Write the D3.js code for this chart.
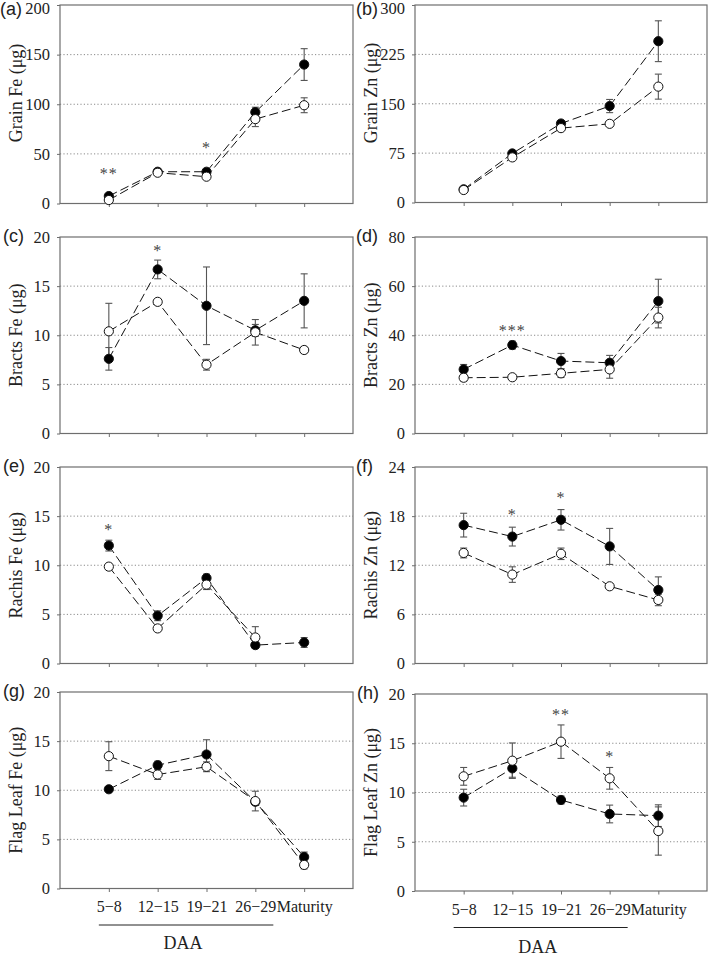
<!DOCTYPE html>
<html>
<head>
<meta charset="utf-8">
<script src="https://cdn.jsdelivr.net/npm/d3@7"></script>
<style>
  html, body { margin: 0; padding: 0; background: #fff; }
  svg { display: block; }
  .serif { font-family: "Liberation Serif", "Tinos", "Times New Roman", "DejaVu Serif", serif; }
  .sans { font-family: "Liberation Sans", Arimo, Arial, sans-serif; }
</style>
</head>
<body>
<svg id="chart" width="709" height="958"></svg>
<script>
// ---------- DATA ----------
const categories = ["5\u22128", "12\u221215", "19\u221221", "26\u221229", "Maturity"];

// (a) Grain Fe
const grainFeFilled    = [7.5, 32, 32, 92, 140];
const grainFeFilledErr = [1.5, 1.5, 2, 5, 16];
const grainFeOpen      = [3.5, 31, 27, 85, 99];
const grainFeOpenErr   = [1, 1.5, 2, 7.5, 7.5];
const grainFeTicks     = [0, 50, 100, 150, 200];
const grainFeStars     = [{cat: "5\u22128", v: 32, t: "**"}, {cat: "19\u221221", v: 58, t: "*"}];

// (b) Grain Zn
const grainZnFilled    = [20, 74.5, 120, 146.5, 245];
const grainZnFilledErr = [2, 3, 4, 10, 31];
const grainZnOpen      = [19, 68.5, 113, 119.5, 176];
const grainZnOpenErr   = [2, 3, 3, 4, 19];
const grainZnTicks     = [0, 75, 150, 225, 300];
const grainZnStars     = [];

// (c) Bracts Fe
const bractsFeFilled    = [7.6, 16.7, 13.0, 10.5, 13.5];
const bractsFeFilledErr = [1.15, 0.95, 3.95, 0.6, 2.75];
const bractsFeOpen      = [10.4, 13.4, 7.0, 10.3, 8.5];
const bractsFeOpenErr   = [2.85, 0.3, 0.55, 1.3, 0.3];
const bractsFeTicks     = [0, 5, 10, 15, 20];
const bractsFeStars     = [{cat: "12\u221215", v: 18.8, t: "*"}];

// (d) Bracts Zn
const bractsZnFilled    = [26.1, 36.0, 29.5, 28.8, 53.9];
const bractsZnFilledErr = [2, 1.6, 3.1, 3.0, 8.9];
const bractsZnOpen      = [22.7, 22.9, 24.5, 26.1, 47.2];
const bractsZnOpenErr   = [1.4, 1.0, 1.7, 3.6, 4.2];
const bractsZnTicks     = [0, 20, 40, 60, 80];
const bractsZnStars     = [{cat: "12\u221215", v: 42.7, t: "***"}];

// (e) Rachis Fe
const rachisFeFilled    = [12.0, 4.86, 8.7, 1.87, 2.14];
const rachisFeFilledErr = [0.55, 0.5, 0.4, 0.3, 0.5];
const rachisFeOpen      = [9.86, 3.57, 8.03, 2.65, null];
const rachisFeOpenErr   = [0.3, 0.3, 0.5, 1.1, null];
const rachisFeTicks     = [0, 5, 10, 15, 20];
const rachisFeStars     = [{cat: "5\u22128", v: 13.8, t: "*"}];

// (f) Rachis Zn
const rachisZnFilled    = [16.9, 15.5, 17.55, 14.3, 8.98];
const rachisZnFilledErr = [1.45, 1.15, 1.25, 2.2, 1.6];
const rachisZnOpen      = [13.5, 10.86, 13.4, 9.43, 7.76];
const rachisZnOpenErr   = [0.6, 0.95, 0.7, 0.25, 0.7];
const rachisZnTicks     = [0, 6, 12, 18, 24];
const rachisZnStars     = [{cat: "12\u221215", v: 18.4, t: "*"}, {cat: "19\u221221", v: 20.5, t: "*"}];

// (g) Flag Leaf Fe
const flagFeFilled    = [10.1, 12.55, 13.64, 8.83, 3.21];
const flagFeFilledErr = [0.25, 0.4, 1.5, 0.3, 0.5];
const flagFeOpen      = [13.47, 11.6, 12.39, 8.9, 2.4];
const flagFeOpenErr   = [1.47, 0.5, 0.5, 1.0, 0.4];
const flagFeTicks     = [0, 5, 10, 15, 20];
const flagFeStars     = [];

// (h) Flag Leaf Zn
const flagZnFilled    = [9.48, 12.45, 9.24, 7.82, 7.65];
const flagZnFilledErr = [0.85, 0.9, 0.4, 0.9, 1.1];
const flagZnOpen      = [11.64, 13.23, 15.16, 11.44, 6.09];
const flagZnOpenErr   = [0.9, 1.8, 1.7, 1.1, 2.45];
const flagZnTicks     = [0, 5, 10, 15, 20];
const flagZnStars     = [{cat: "19\u221221", v: 18.07, t: "**"}, {cat: "26\u221229", v: 13.8, t: "*"}];

const xAxisTitle = "DAA";

// ---------- PANELS (data refs + layout) ----------
const panels = [
  {tag: "(a)", label: "Grain Fe (\u03bcg)", filled: grainFeFilled, filledErr: grainFeFilledErr, open: grainFeOpen, openErr: grainFeOpenErr, ticks: grainFeTicks, stars: grainFeStars,
   L: 60, R: 353, T: 5, B: 203.5, labelY: 93, tagX: 0, tagY: 14.5, xLabels: false, topShift: 3.5},
  {tag: "(b)", label: "Grain Zn (\u03bcg)", filled: grainZnFilled, filledErr: grainZnFilledErr, open: grainZnOpen, openErr: grainZnOpenErr, ticks: grainZnTicks, stars: grainZnStars,
   L: 415, R: 707, T: 5, B: 202.5, labelY: 93, tagX: 356, tagY: 14.5, xLabels: false, topShift: 3.5},
  {tag: "(c)", label: "Bracts Fe (\u03bcg)", filled: bractsFeFilled, filledErr: bractsFeFilledErr, open: bractsFeOpen, openErr: bractsFeOpenErr, ticks: bractsFeTicks, stars: bractsFeStars,
   L: 60, R: 353, T: 237, B: 433.5, labelY: null, tagX: 3, tagY: 241.5, xLabels: false, topShift: 0},
  {tag: "(d)", label: "Bracts Zn (\u03bcg)", filled: bractsZnFilled, filledErr: bractsZnFilledErr, open: bractsZnOpen, openErr: bractsZnOpenErr, ticks: bractsZnTicks, stars: bractsZnStars,
   L: 415, R: 707, T: 237, B: 433.5, labelY: null, tagX: 356, tagY: 241.5, xLabels: false, topShift: 0},
  {tag: "(e)", label: "Rachis Fe (\u03bcg)", filled: rachisFeFilled, filledErr: rachisFeFilledErr, open: rachisFeOpen, openErr: rachisFeOpenErr, ticks: rachisFeTicks, stars: rachisFeStars,
   L: 60, R: 353, T: 467, B: 663.5, labelY: null, tagX: 3, tagY: 471.5, xLabels: false, topShift: 0},
  {tag: "(f)", label: "Rachis Zn (\u03bcg)", filled: rachisZnFilled, filledErr: rachisZnFilledErr, open: rachisZnOpen, openErr: rachisZnOpenErr, ticks: rachisZnTicks, stars: rachisZnStars,
   L: 415, R: 707, T: 467, B: 663.5, labelY: null, tagX: 356, tagY: 471.5, xLabels: false, topShift: 0},
  {tag: "(g)", label: "Flag Leaf Fe (\u03bcg)", filled: flagFeFilled, filledErr: flagFeFilledErr, open: flagFeOpen, openErr: flagFeOpenErr, ticks: flagFeTicks, stars: flagFeStars,
   L: 60, R: 353, T: 692, B: 888.5, labelY: null, tagX: 3, tagY: 696.5, xLabels: true, daaY: 949, topShift: 0},
  {tag: "(h)", label: "Flag Leaf Zn (\u03bcg)", filled: flagZnFilled, filledErr: flagZnFilledErr, open: flagZnOpen, openErr: flagZnOpenErr, ticks: flagZnTicks, stars: flagZnStars,
   L: 415, R: 707, T: 694, B: 891, labelY: null, tagX: 357, tagY: 698.5, xLabels: true, daaY: 953, topShift: 0}
];

const frameColor = "#6e6e6e";
const errColor = "#555";

const svg = d3.select("#chart");

panels.forEach(p => {
  const g = svg.append("g");
  const x = d3.scalePoint().domain(categories).range([p.L, p.R]).padding(1);
  const ymax = p.ticks[p.ticks.length - 1];
  const y = d3.scaleLinear().domain([0, ymax]).range([p.B, p.T]);

  // gridlines
  g.selectAll("line.grid").data(p.ticks.filter(t => t > 0 && t < ymax)).enter()
    .append("line")
    .attr("x1", p.L).attr("x2", p.R)
    .attr("y1", d => y(d)).attr("y2", d => y(d))
    .attr("stroke", "#8a8a8a").attr("stroke-width", 1)
    .attr("stroke-dasharray", "1.2,2.2");

  // frame
  g.append("rect")
    .attr("x", p.L).attr("y", p.T)
    .attr("width", p.R - p.L).attr("height", p.B - p.T)
    .attr("fill", "none").attr("stroke", frameColor).attr("stroke-width", 1.2);

  // y axis
  const yAxis = d3.axisLeft(y).tickValues(p.ticks).tickSize(3).tickPadding(7).tickFormat(d3.format("d"));
  const ya = g.append("g").attr("transform", `translate(${p.L},0)`).call(yAxis);
  ya.attr("font-family", null).attr("font-size", null);
  ya.select(".domain").remove();
  ya.selectAll(".tick line").attr("stroke", frameColor);
  ya.selectAll(".tick text").attr("class", "serif")
    .style("font-size", "16.5px").attr("fill", "#222")
    .attr("dy", d => (d === ymax ? (0.32 * 16.5 + p.topShift) + "px" : "0.32em"));

  // x axis
  const xAxis = d3.axisBottom(x).tickSize(3.5).tickPadding(9);
  const xa = g.append("g").attr("transform", `translate(0,${p.B})`).call(xAxis);
  xa.attr("font-family", null).attr("font-size", null);
  xa.select(".domain").remove();
  xa.selectAll(".tick line").attr("stroke", frameColor);
  if (p.xLabels) {
    xa.selectAll(".tick text").attr("class", "serif").style("font-size", "16px").attr("fill", "#222");
  } else {
    xa.selectAll(".tick text").remove();
  }

  // y label
  const ly = p.labelY != null ? p.labelY : (p.T + p.B) / 2;
  const lx = p.L - 44;
  g.append("text")
    .attr("class", "serif")
    .attr("transform", `translate(${lx},${ly}) rotate(-90)`)
    .attr("text-anchor", "middle")
    .attr("dy", "0.32em")
    .style("font-size", "18px").attr("fill", "#222")
    .text(p.label);

  // panel tag
  g.append("text")
    .attr("class", "sans")
    .attr("x", p.tagX).attr("y", p.tagY)
    .style("font-size", "18px").attr("fill", "#222")
    .text(p.tag);

  const series = [
    {vals: p.filled, err: p.filledErr, fill: "#000"},
    {vals: p.open, err: p.openErr, fill: "#fff"}
  ];

  // dashed lines
  series.forEach(s => {
    const pts = categories.map((c, i) => ({c, v: s.vals[i]})).filter(d => d.v != null);
    const line = d3.line().x(d => x(d.c)).y(d => y(d.v));
    g.append("path").datum(pts)
      .attr("d", line)
      .attr("fill", "none").attr("stroke", "#111").attr("stroke-width", 1)
      .attr("stroke-dasharray", "9,4");
  });

  // error bars
  series.forEach(s => {
    const pts = categories.map((c, i) => ({c, v: s.vals[i], e: s.err[i]})).filter(d => d.v != null && d.e);
    const eg = g.append("g").attr("stroke", errColor).attr("stroke-width", 1.1);
    pts.forEach(d => {
      const cx = x(d.c), y1 = y(d.v + d.e), y2 = y(d.v - d.e);
      eg.append("line").attr("x1", cx).attr("x2", cx).attr("y1", y1).attr("y2", y2);
      eg.append("line").attr("x1", cx - 3.5).attr("x2", cx + 3.5).attr("y1", y1).attr("y2", y1);
      eg.append("line").attr("x1", cx - 3.5).attr("x2", cx + 3.5).attr("y1", y2).attr("y2", y2);
    });
  });

  // markers
  series.forEach(s => {
    const pts = categories.map((c, i) => ({c, v: s.vals[i]})).filter(d => d.v != null);
    g.selectAll(null).data(pts).enter().append("circle")
      .attr("cx", d => x(d.c)).attr("cy", d => y(d.v)).attr("r", 4.6)
      .attr("fill", s.fill).attr("stroke", "#111").attr("stroke-width", 1);
  });

  // significance stars
  g.selectAll(null).data(p.stars).enter().append("text")
    .attr("class", "serif")
    .attr("x", d => x(d.cat)).attr("y", d => y(d.v) + 7.4)
    .attr("text-anchor", "middle")
    .style("font-size", "16px").attr("fill", "#444")
    .attr("letter-spacing", 1)
    .text(d => d.t);

  // DAA bracket
  if (p.xLabels) {
    const x0 = x(categories[0]) - 10, x1 = x(categories[3]) + 18;
    g.append("line").attr("x1", x0).attr("x2", x1)
      .attr("y1", p.B + 36.5).attr("y2", p.B + 36.5)
      .attr("stroke", "#222").attr("stroke-width", 1);
    g.append("text")
      .attr("class", "serif")
      .attr("x", (x0 + x1) / 2 - 3).attr("y", p.daaY)
      .attr("text-anchor", "middle")
      .style("font-size", "18px").attr("fill", "#222")
      .text(xAxisTitle);
  }
});
</script>
</body>
</html>
